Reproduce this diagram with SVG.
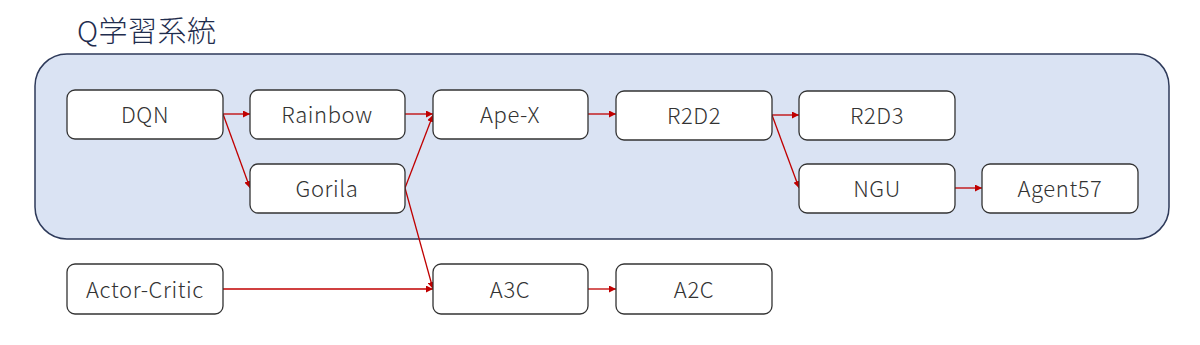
<svg xmlns="http://www.w3.org/2000/svg" width="1200" height="345" viewBox="0 0 1200 345">
<defs>
<marker id="arr" viewBox="0 0 10 10" refX="10" refY="5" markerWidth="7" markerHeight="7" markerUnits="userSpaceOnUse" orient="auto">
<path d="M0,0 L10,5 L0,10 z" fill="#c00000"/>
</marker>
<style>
.node rect{fill:#fff;stroke:#333;stroke-width:1.3}
.node text{font-family:"Noto Sans CJK JP","Noto Sans",sans-serif;font-weight:300;font-size:22px;letter-spacing:0.6px;fill:#333;text-anchor:middle;dominant-baseline:central}
.edge{stroke:#c00000;stroke-width:1.3;fill:none;marker-end:url(#arr)}
</style>
</defs>
<rect width="1200" height="345" fill="#fff"/>
<text x="77" y="42" font-family="'Noto Sans CJK JP',sans-serif" font-weight="300" font-size="29" letter-spacing="0.5" fill="#1f2d4e">Q学習系統</text>
<rect id="group-q" x="35" y="54" width="1134" height="185" rx="32" fill="#dae3f3" stroke="#2e3a5a" stroke-width="1.5"/>
<g id="connectors">
<path class="edge" d="M223,114 L250,114"/>
<path class="edge" d="M223,114 L250,188"/>
<path class="edge" d="M405,114 L433,114"/>
<path class="edge" d="M405,188 L433,115"/>
<path class="edge" d="M405,188 L433,289"/>
<path class="edge" d="M223,289 L433,289"/>
<path class="edge" d="M588,114 L616,114"/>
<path class="edge" d="M772,115 L799,115"/>
<path class="edge" d="M772,115 L799,188"/>
<path class="edge" d="M955,188 L982,188"/>
<path class="edge" d="M588,289 L616,289"/>
</g>
<g id="DQN" class="node"><rect x="67" y="90" width="156" height="49" rx="8"/><text x="145" y="113">DQN</text></g>
<g id="Rainbow" class="node"><rect x="250" y="90" width="155" height="49" rx="8"/><text x="327" y="113">Rainbow</text></g>
<g id="Gorila" class="node"><rect x="250" y="164" width="155" height="49" rx="8"/><text x="327" y="187">Gorila</text></g>
<g id="ApeX" class="node"><rect x="433" y="90" width="155" height="49" rx="8"/><text x="510" y="113">Ape-X</text></g>
<g id="R2D2" class="node"><rect x="616" y="91" width="156" height="49" rx="8"/><text x="694" y="114">R2D2</text></g>
<g id="R2D3" class="node"><rect x="799" y="91" width="156" height="49" rx="8"/><text x="877" y="114">R2D3</text></g>
<g id="NGU" class="node"><rect x="799" y="164" width="156" height="49" rx="8"/><text x="877" y="187">NGU</text></g>
<g id="Agent57" class="node"><rect x="982" y="164" width="156" height="49" rx="8"/><text x="1060" y="187">Agent57</text></g>
<g id="ActorCritic" class="node"><rect x="67" y="264" width="156" height="50" rx="8"/><text x="145" y="288">Actor-Critic</text></g>
<g id="A3C" class="node"><rect x="433" y="264" width="155" height="50" rx="8"/><text x="510" y="288">A3C</text></g>
<g id="A2C" class="node"><rect x="616" y="264" width="156" height="50" rx="8"/><text x="694" y="288">A2C</text></g>
</svg>
